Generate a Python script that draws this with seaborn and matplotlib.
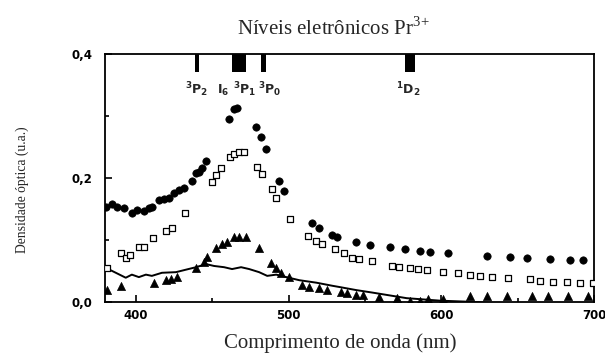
import numpy as np
import pandas as pd
import matplotlib
matplotlib.use("Agg")
import matplotlib.pyplot as plt
import seaborn as sns

# --- absorption spectra (optical density vs wavelength) ---
circ_nm = [380.3, 384.2, 387.5, 392.1, 397.4, 400.7, 405.3, 408.5, 410.5, 415.1, 418.4,
           421.7, 424.9, 428.2, 431.5, 436.8, 439.4, 441.4, 443.3, 446.0, 461.1, 464.3,
           466.3, 478.8, 482.1, 485.3, 493.9, 497.2, 515.5, 520.1, 528.7, 532.0, 544.4,
           553.0, 566.1, 576.0, 585.8, 592.3, 604.2, 629.8, 644.9, 656.0, 671.1, 684.3, 692.8]
circ_od = [0.153, 0.158, 0.153, 0.152, 0.144, 0.148, 0.147, 0.152, 0.153, 0.165, 0.166,
           0.168, 0.176, 0.181, 0.184, 0.195, 0.208, 0.210, 0.216, 0.227, 0.295, 0.311,
           0.313, 0.282, 0.266, 0.247, 0.195, 0.179, 0.127, 0.119, 0.108, 0.105, 0.097,
           0.092, 0.089, 0.085, 0.082, 0.081, 0.079, 0.074, 0.073, 0.071, 0.069, 0.068, 0.068]

sq_nm = [381.0, 390.2, 393.4, 396.1, 402.0, 405.3, 411.2, 419.7, 423.6, 432.2, 449.9,
         452.5, 455.8, 461.7, 464.3, 467.6, 470.9, 479.4, 482.7, 489.3, 491.9, 501.1,
         512.9, 518.2, 522.1, 530.6, 536.5, 541.8, 546.4, 554.9, 567.4, 572.6, 579.2,
         584.5, 590.4, 600.9, 610.7, 618.6, 625.2, 633.0, 643.6, 658.0, 664.6, 673.1,
         682.3, 690.8, 699.4]
sq_od = [0.055, 0.079, 0.071, 0.076, 0.089, 0.089, 0.103, 0.115, 0.119, 0.144, 0.194,
         0.205, 0.216, 0.234, 0.239, 0.242, 0.242, 0.218, 0.206, 0.182, 0.168, 0.134,
         0.106, 0.098, 0.094, 0.085, 0.079, 0.071, 0.069, 0.066, 0.058, 0.056, 0.055,
         0.053, 0.052, 0.048, 0.047, 0.044, 0.042, 0.040, 0.039, 0.037, 0.034, 0.032,
         0.032, 0.031, 0.031]

tri_nm = [381.0, 390.0, 411.8, 419.7, 423.0, 427.0, 439.4, 444.6, 446.6, 452.5, 456.5,
          459.7, 464.3, 467.6, 472.2, 480.7, 488.6, 491.9, 495.2, 500.4, 509.0, 513.6,
          520.1, 525.4, 534.6, 538.5, 544.4, 548.4, 559.5, 570.7, 579.2, 585.8, 591.0,
          600.9, 618.6, 629.8, 642.9, 659.3, 669.8, 683.0, 696.1]
tri_od = [0.019, 0.026, 0.031, 0.035, 0.037, 0.040, 0.055, 0.065, 0.073, 0.087, 0.094,
          0.097, 0.105, 0.105, 0.105, 0.087, 0.063, 0.055, 0.047, 0.040, 0.027, 0.024,
          0.023, 0.019, 0.016, 0.015, 0.011, 0.011, 0.008, 0.006, 0.001, 0.001, 0.005,
          0.005, 0.009, 0.009, 0.009, 0.009, 0.009, 0.009, 0.009]

line_nm = [380.3, 386.9, 393.4, 397.4, 402.0, 406.6, 410.5, 417.1, 426.3, 432.8, 439.4,
           446.0, 451.2, 457.8, 463.0, 468.9, 474.2, 480.7, 486.0, 491.9, 498.5, 507.0,
           518.2, 528.7, 533.3, 544.4, 554.9, 577.3, 599.0, 620.6, 645.0]
line_od = [0.055, 0.047, 0.039, 0.044, 0.040, 0.044, 0.042, 0.047, 0.048, 0.052, 0.056,
           0.061, 0.058, 0.056, 0.053, 0.056, 0.053, 0.048, 0.042, 0.044, 0.040, 0.035,
           0.031, 0.026, 0.024, 0.019, 0.015, 0.006, 0.002, 0.000, -0.003]

# --- Pr3+ electronic levels (wavelength band, label position) ---
level_lo = [438.8, 462.8, 481.9, 576.0]
level_hi = [441.6, 472.0, 485.2, 582.5]
level_names = [r"$\mathbf{^{3}P_{2}}$", r"$\mathbf{I_{6}}$", r"$\mathbf{^{3}P_{1}}$",
               r"$\mathbf{^{3}P_{0}}$", r"$\mathbf{^{1}D_{2}}$"]
level_label_nm = [439.5, 457.5, 471.0, 487.5, 578.5]

x_ticks = [400, 500, 600, 700]
y_ticks = [0.0, 0.2, 0.4]
y_tick_labels = ["0,0", "0,2", "0,4"]

sns.set_style("ticks")
plt.rcParams["mathtext.fontset"] = "custom"
plt.rcParams["mathtext.rm"] = "Liberation Serif"
plt.rcParams["mathtext.bf"] = "DejaVu Sans:bold"
plt.rcParams["font.family"] = ["Liberation Serif", "DejaVu Serif"]

fig = plt.figure(figsize=(6.05, 3.56), dpi=100)
ax = fig.add_axes([0.174, 0.152, 0.808, 0.696])

df_c = pd.DataFrame({"nm": circ_nm, "od": circ_od})
df_s = pd.DataFrame({"nm": sq_nm, "od": sq_od})
df_t = pd.DataFrame({"nm": tri_nm, "od": tri_od})
df_l = pd.DataFrame({"nm": line_nm, "od": line_od})

sns.lineplot(data=df_l, x="nm", y="od", ax=ax, color="black", linewidth=1.4,
             sort=False, zorder=2)
sns.scatterplot(data=df_c, x="nm", y="od", ax=ax, marker="o", s=28,
                color="black", edgecolor="black", linewidth=0.5, zorder=3)
sns.scatterplot(data=df_s, x="nm", y="od", ax=ax, marker="s", s=24,
                facecolor="white", edgecolor="black", linewidth=0.9, zorder=3)
sns.scatterplot(data=df_t, x="nm", y="od", ax=ax, marker="^", s=34,
                color="black", edgecolor="black", linewidth=0.5, zorder=3)

for lo, hi in zip(level_lo, level_hi):
    ax.axvspan(lo, hi, ymin=0.927, ymax=1.0, color="black", lw=0, zorder=4)
for name, xpos in zip(level_names, level_label_nm):
    ax.text(xpos, 0.342, name, ha="center", va="center", fontsize=9, zorder=4)

ax.set_xlim(380, 700)
ax.set_ylim(0.0, 0.4)
ax.set_xticks(x_ticks)
ax.set_xticks([450, 550, 650], minor=True)
ax.set_yticks(y_ticks)
ax.set_yticks([0.1, 0.3], minor=True)
ax.set_yticklabels(y_tick_labels)
ax.tick_params(axis="both", which="both", direction="in", top=False, right=False,
               colors="black")
ax.tick_params(axis="both", which="major", length=5, width=1.2)
ax.tick_params(axis="both", which="minor", length=3, width=1.2)
ax.tick_params(axis="x", pad=5)
ax.tick_params(axis="y", pad=9)
for lab in ax.get_xticklabels() + ax.get_yticklabels():
    lab.set_fontfamily("DejaVu Sans")
    lab.set_fontweight("bold")
    lab.set_fontsize(8.5)

for sp in ax.spines.values():
    sp.set_visible(True)
    sp.set_color("black")
    sp.set_linewidth(1.3)

ax.set_xlabel("Comprimento de onda (nm)", fontsize=15)
ax.xaxis.set_label_coords(0.48, -0.125)
ax.set_ylabel("Densidade óptica (u.a.)", fontsize=9.8)
ax.yaxis.set_label_coords(-0.155, 0.452)
ax.set_title(r"Níveis eletrônicos Pr$^{3\!+}$", fontsize=15, x=0.466, pad=14)

fig.savefig("out.png", dpi=100)
